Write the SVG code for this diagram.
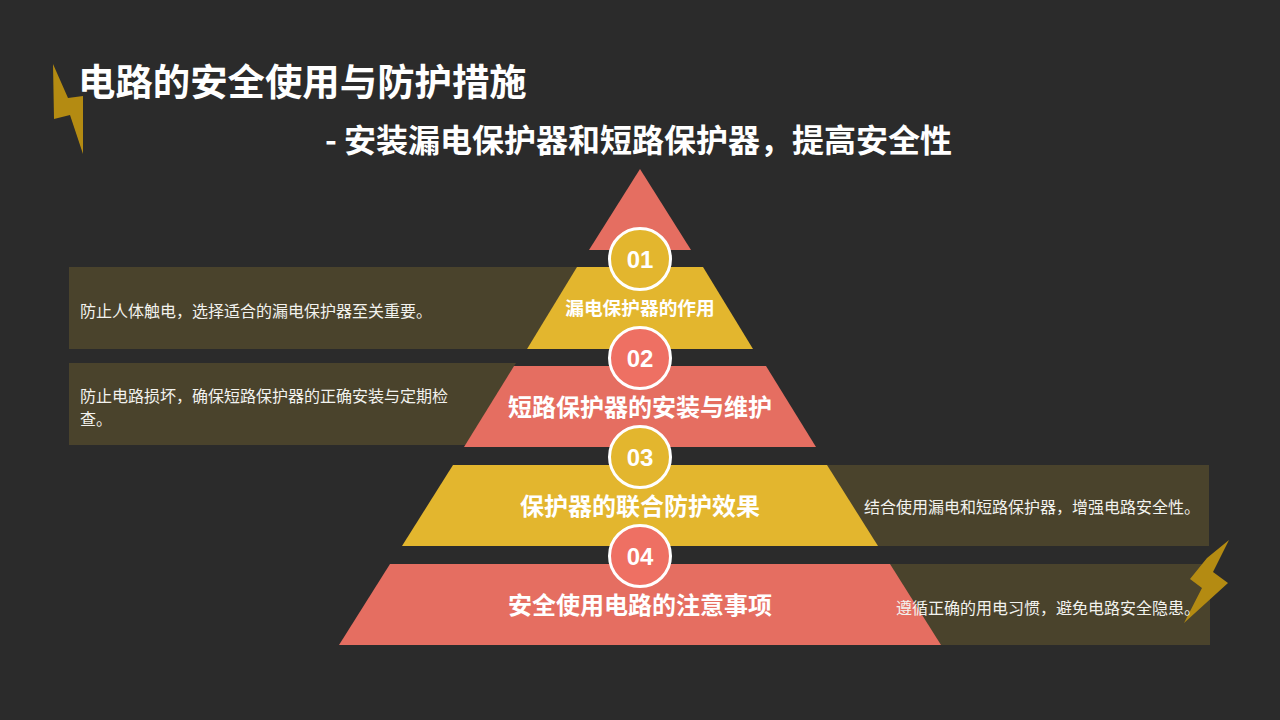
<svg xmlns="http://www.w3.org/2000/svg" width="1280" height="720" viewBox="0 0 1280 720">
<style>
text{font-family:"Noto Sans CJK SC","Noto Sans",sans-serif;fill:#fff}
.t{font-weight:700}
.m{text-anchor:middle;font-weight:700}
.d{font-size:16px;fill:#f2f2ee}
.n{font-family:"Liberation Sans",Arial,sans-serif;font-size:24px;font-weight:700;text-anchor:middle}
.p{fill:#4a432c}
.r{fill:#e56e61}
.rc{fill:#ee7063}
.y{fill:#e3b62e}
.c{stroke:#fff;stroke-width:3}
.b{fill:#b48b12}
</style>
<rect width="1280" height="720" fill="#2b2b2b"/>
<g id="bolt-left"><polygon class="b" points="53,64 68,98 83,96 83,154 70,115 54,119"/></g>
<g id="title"><text class="t" x="78" y="96" font-size="37.4">电路的安全使用与防护措施</text>
<text class="t" x="325" y="152" font-size="32">- 安装漏电保护器和短路保护器，提高安全性</text></g>
<g id="apex"><polygon class="r" points="640,169 691,250 589,250"/></g>
<g id="level-1">
<polygon class="p" points="69,267 578,267 527,349 69,349"/>
<polygon class="y" points="577,267 703,267 753,349 527,349"/>
<text class="m" x="640" y="315" font-size="18.7">漏电保护器的作用</text>
<text class="d" x="80" y="317">防止人体触电，选择适合的漏电保护器至关重要。</text>
<circle class="y c" cx="640" cy="259" r="30.5"/><text class="n" x="640" y="268">01</text></g>
<g id="level-2">
<polygon class="p" points="69,363 516,363 466,445 69,445"/>
<polygon class="r" points="514,366 766,366 816,447 464,447"/>
<text class="m" x="640" y="416" font-size="24">短路保护器的安装与维护</text>
<text class="d" x="80" y="402">防止电路损坏，确保短路保护器的正确安装与定期检</text>
<text class="d" x="80" y="425">查。</text>
<circle class="rc c" cx="640" cy="358" r="30.5"/><text class="n" x="640" y="367">02</text></g>
<g id="level-3">
<rect class="p" x="800" y="465" width="409" height="81"/>
<polygon class="y" points="453,465 827,465 878,546 402,546"/>
<text class="m" x="640" y="515" font-size="24">保护器的联合防护效果</text>
<text class="d" x="864" y="513">结合使用漏电和短路保护器，增强电路安全性。</text>
<circle class="y c" cx="640" cy="457" r="30.5"/><text class="n" x="640" y="466">03</text></g>
<g id="level-4">
<rect class="p" x="860" y="564" width="350" height="81"/>
<polygon class="r" points="390,564 890,564 941,645 339,645"/>
<text class="m" x="640" y="614" font-size="24">安全使用电路的注意事项</text>
<circle class="rc c" cx="640" cy="556" r="30.5"/><text class="n" x="640" y="565">04</text></g>
<g id="bolt-right"><polygon class="b" points="1229,540 1213,572 1228,583 1184,623 1202,588 1190,579 1207,558"/></g>
<text class="d" x="896" y="614">遵循正确的用电习惯，避免电路安全隐患。</text>
</svg>
